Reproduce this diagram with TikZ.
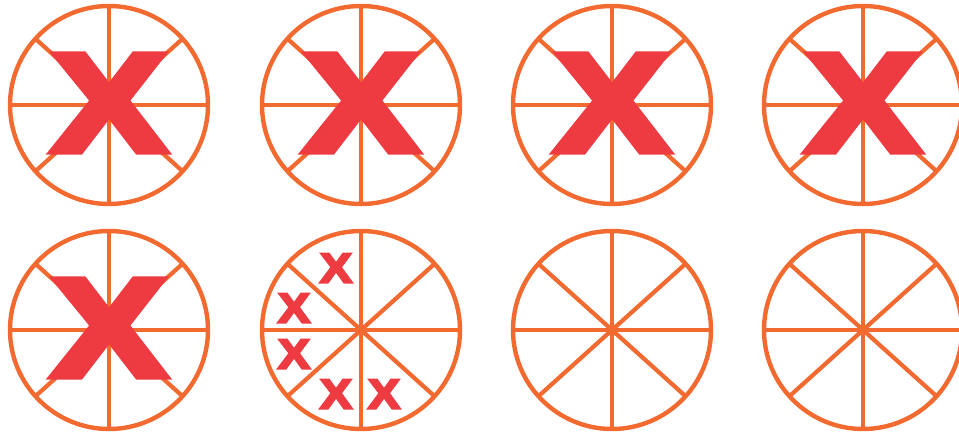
\documentclass[tikz,border=0pt]{standalone}
\usepackage{fontspec}
\usepackage{graphicx}
\newfontfamily\markfont{Liberation Sans}[BoldFeatures={FakeBold=5}]
\definecolor{wheelorange}{HTML}{F26A30}
\definecolor{crossred}{HTML}{EE3B42}
\tikzset{
  wheel/.style={
    circle,
    draw=wheelorange,
    line width=4.4pt,
    minimum size=198pt,
    inner sep=0pt,
    outer sep=0pt
  },
  spoke/.style={
    draw=wheelorange,
    line width=4.2pt
  },
  bigcross/.style={
    text=crossred,
    font=\markfont\bfseries\fontsize{140}{140}\selectfont,
    inner sep=0pt
  },
  smallcross/.style={
    text=crossred,
    font=\markfont\bfseries\fontsize{42}{42}\selectfont,
    inner sep=0pt
  }
}

\begin{document}
\begin{tikzpicture}[x=1pt, y=-1pt]

  \useasboundingbox (0,0) rectangle (959,434);

  % Wheels
  \foreach \name/\cx/\cy in {w1/109/105, w2/361/105, w3/612/105, w4/863/105,
                             w5/109/330, w6/361/330, w7/612/330, w8/863/330} {
    \node (\name) [wheel] at (\cx,\cy) {};
    \foreach \a in {0,42,90,138,180,222,270,318}
      \draw [spoke] (\name.center) -- (\name.\a);
  }

  % Big crosses
  \foreach \name/\w in {x1/w1, x2/w2, x3/w3, x4/w4, x5/w5} {
    \node (\name) [bigcross] at ([yshift=2pt]\w.center) {\scalebox{1.22}[1]{X}};
  }

  % Small crosses
  \node (s1) [smallcross] at (336,268) {\scalebox{1.15}[1]{X}};
  \node (s2) [smallcross] at (294,308) {\scalebox{1.15}[1]{X}};
  \node (s3) [smallcross] at (294,354) {\scalebox{1.15}[1]{X}};
  \node (s4) [smallcross] at (336,394) {\scalebox{1.15}[1]{X}};
  \node (s5) [smallcross] at (384,394) {\scalebox{1.15}[1]{X}};

\end{tikzpicture}
\end{document}
